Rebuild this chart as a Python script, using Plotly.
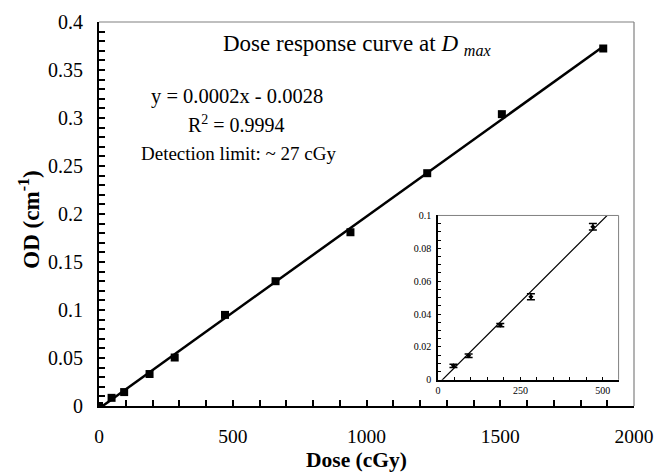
import numpy as np
import plotly.graph_objects as go

# ---- data ----
dose = [0, 47, 94, 189, 283, 471, 660, 940, 1227, 1506, 1885]
od = [0.0, 0.0085, 0.0145, 0.0333, 0.0505, 0.0949, 0.130, 0.181, 0.2425, 0.304, 0.3724]

inset_dose = [47, 93, 189, 282, 470]
inset_od = [0.0085, 0.0146, 0.0333, 0.0505, 0.0931]
inset_err = [0.001, 0.0011, 0.001, 0.0018, 0.002]

x_ticks = [0, 500, 1000, 1500, 2000]
y_ticks = [0, 0.05, 0.1, 0.15, 0.2, 0.25, 0.3, 0.35, 0.4]
inset_x_ticks = [0, 250, 500]
inset_y_ticks = [0, 0.02, 0.04, 0.06, 0.08, 0.1]

# linear fit (trendline)
slope, intercept = np.polyfit(dose, od, 1)
fit_x = np.array([0, max(dose)])
fit_y = slope * fit_x + intercept
inset_fit_x = np.array([0, 550])
inset_fit_y = slope * inset_fit_x + intercept

FONT = "'Liberation Serif', 'Times New Roman', Times, serif"

fig = go.Figure()
fig.add_trace(go.Scatter(x=fit_x, y=fit_y, mode="lines",
                         line=dict(color="black", width=2.5),
                         xaxis="x", yaxis="y", showlegend=False))
fig.add_trace(go.Scatter(x=dose, y=od, mode="markers",
                         marker=dict(symbol="square", size=8, color="black"),
                         xaxis="x", yaxis="y", showlegend=False))
fig.add_trace(go.Scatter(x=inset_fit_x, y=inset_fit_y, mode="lines",
                         line=dict(color="black", width=1.2),
                         xaxis="x2", yaxis="y2", showlegend=False))
fig.add_trace(go.Scatter(x=inset_dose, y=inset_od, mode="markers",
                         marker=dict(symbol="diamond", size=4, color="black"),
                         error_y=dict(type="data", array=inset_err, visible=True,
                                      color="black", thickness=1.5, width=4),
                         xaxis="x2", yaxis="y2", showlegend=False))

def px_x(p):
    return (p - 99) / 545

def px_y(p):
    return (406 - p) / 395

fig.update_layout(
    width=665, height=476,
    margin=dict(l=99, r=21, t=11, b=70),
    paper_bgcolor="white", plot_bgcolor="white",
    font=dict(family=FONT, color="black"),
    xaxis=dict(range=[0, 2000], domain=[0, 1], tickvals=x_ticks,
               ticks="inside", ticklen=6, tickwidth=1.5, tickcolor="black",
               minor=dict(dtick=100, ticks="inside", ticklen=6, tickwidth=1.5, tickcolor="black"),
               showline=True, linecolor="black", linewidth=2, showgrid=False, zeroline=False,
               tickfont=dict(family=FONT, size=19.5, color="black"), ticklabelstandoff=12),
    yaxis=dict(range=[0, 0.4], domain=[0, 1], tickvals=y_ticks,
               ticks="inside", ticklen=6, tickwidth=1.5, tickcolor="black",
               minor=dict(dtick=0.01, ticks="inside", ticklen=6, tickwidth=1.5, tickcolor="black"),
               showline=True, linecolor="black", linewidth=2, showgrid=False, zeroline=False,
               tickfont=dict(family=FONT, size=20, color="black"), ticklabelstandoff=10),
    xaxis2=dict(range=[0, 548], domain=[0.6336, 0.9712], anchor="y2", tickvals=inset_x_ticks,
                ticks="inside", ticklen=3, tickwidth=1, tickcolor="black",
                minor=dict(dtick=50, ticks="inside", ticklen=3, tickwidth=1, tickcolor="black"),
                showline=True, linecolor="black", linewidth=1.5, showgrid=False, zeroline=False,
                tickfont=dict(family=FONT, size=10, color="black"), ticklabelstandoff=1),
    yaxis2=dict(range=[0, 0.1], domain=[0.0684, 0.4962], anchor="x2", tickvals=inset_y_ticks,
                ticks="inside", ticklen=3, tickwidth=1, tickcolor="black",
                minor=dict(dtick=0.005, ticks="inside", ticklen=3, tickwidth=1, tickcolor="black"),
                showline=True, linecolor="black", linewidth=1.5, showgrid=False, zeroline=False,
                tickfont=dict(family=FONT, size=10, color="black"), ticklabelstandoff=3),
    shapes=[
        dict(type="line", xref="x domain", yref="y domain", x0=0, x1=1, y0=1, y1=1,
             line=dict(color="#808080", width=1.2)),
        dict(type="line", xref="x domain", yref="y domain", x0=1, x1=1, y0=0, y1=1,
             line=dict(color="#808080", width=1.2)),
        dict(type="line", xref="x2 domain", yref="y2 domain", x0=0, x1=1, y0=1, y1=1,
             line=dict(color="#808080", width=1)),
        dict(type="line", xref="x2 domain", yref="y2 domain", x0=1, x1=1, y0=0, y1=1,
             line=dict(color="#808080", width=1)),
    ],
    annotations=[
        dict(text="<b>Dose (cGy)</b>", xref="paper", yref="paper",
             x=px_x(361), y=px_y(462), showarrow=False, xanchor="center", yanchor="middle",
             font=dict(family=FONT, size=21.5, color="black")),
        dict(text="<b>OD (cm<sup>-1</sup>)</b>", xref="paper", yref="paper", textangle=-90,
             x=px_x(28), y=px_y(214), showarrow=False, xanchor="center", yanchor="middle",
             font=dict(family=FONT, size=23, color="black")),
        dict(text="Dose response curve at <i>D</i> <sub><i>max</i></sub>", xref="paper", yref="paper",
             x=px_x(362), y=px_y(35), showarrow=False,
             xanchor="center", yanchor="middle",
             font=dict(family=FONT, size=23, color="black")),
        dict(text="y = 0.0002x - 0.0028", xref="paper", yref="paper",
             x=px_x(240), y=px_y(88), showarrow=False,
             xanchor="center", yanchor="middle",
             font=dict(family=FONT, size=20.5, color="black")),
        dict(text="R<sup>2</sup> = 0.9994", xref="paper", yref="paper",
             x=px_x(239), y=px_y(116), showarrow=False,
             xanchor="center", yanchor="middle",
             font=dict(family=FONT, size=20, color="black")),
        dict(text="Detection limit: ~ 27 cGy", xref="paper", yref="paper",
             x=px_x(241), y=px_y(146), showarrow=False,
             xanchor="center", yanchor="middle",
             font=dict(family=FONT, size=19, color="black")),
    ],
)

fig.write_html("out.html")
